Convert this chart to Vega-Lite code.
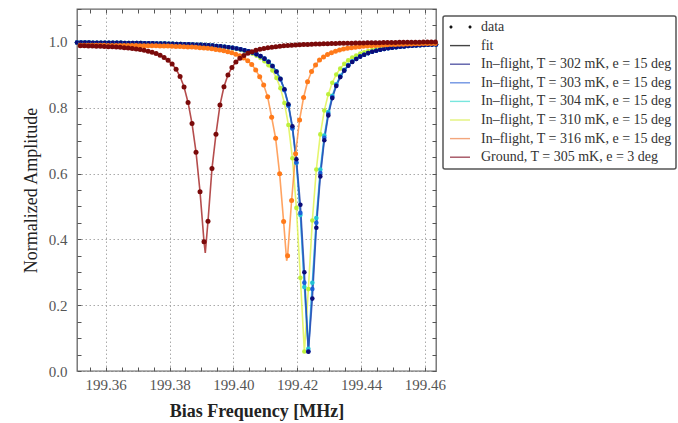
{
"$schema":"https://vega.github.io/schema/vega-lite/v6.json",
"width":359,"height":362,
"autosize":{"type":"none"},
"padding":{"left":77,"top":9,"right":242,"bottom":52},
"background":"white",
"config":{"font":"Liberation Serif","view":{"stroke":"#666","strokeWidth":1.3}},
"datasets":{
"inflight":[
{"freq":199.351,"302":0.998,"303":0.998,"304":0.998,"310":0.998},
{"freq":199.35225,"302":0.9979,"303":0.9979,"304":0.9979,"310":0.998},
{"freq":199.3535,"302":0.9979,"303":0.9979,"304":0.9979,"310":0.9979},
{"freq":199.35475,"302":0.9978,"303":0.9978,"304":0.9978,"310":0.9978},
{"freq":199.356,"302":0.9977,"303":0.9977,"304":0.9977,"310":0.9977},
{"freq":199.35725,"302":0.9976,"303":0.9976,"304":0.9976,"310":0.9976},
{"freq":199.3585,"302":0.9975,"303":0.9975,"304":0.9975,"310":0.9975},
{"freq":199.35975,"302":0.9974,"303":0.9974,"304":0.9974,"310":0.9974},
{"freq":199.361,"302":0.9973,"303":0.9973,"304":0.9973,"310":0.9973},
{"freq":199.36225,"302":0.9972,"303":0.9972,"304":0.9972,"310":0.9972},
{"freq":199.3635,"302":0.9971,"303":0.9971,"304":0.9971,"310":0.9971},
{"freq":199.36475,"302":0.997,"303":0.997,"304":0.997,"310":0.997},
{"freq":199.366,"302":0.9968,"303":0.9968,"304":0.9968,"310":0.9968},
{"freq":199.36725,"302":0.9967,"303":0.9967,"304":0.9967,"310":0.9967},
{"freq":199.3685,"302":0.9965,"303":0.9965,"304":0.9965,"310":0.9965},
{"freq":199.36975,"302":0.9964,"303":0.9964,"304":0.9964,"310":0.9964},
{"freq":199.371,"302":0.9962,"303":0.9962,"304":0.9962,"310":0.9962},
{"freq":199.37225,"302":0.996,"303":0.996,"304":0.996,"310":0.996},
{"freq":199.3735,"302":0.9958,"303":0.9958,"304":0.9958,"310":0.9958},
{"freq":199.37475,"302":0.9956,"303":0.9956,"304":0.9956,"310":0.9956},
{"freq":199.376,"302":0.9954,"303":0.9954,"304":0.9954,"310":0.9953},
{"freq":199.37725,"302":0.9951,"303":0.9951,"304":0.9951,"310":0.9951},
{"freq":199.3785,"302":0.9949,"303":0.9949,"304":0.9949,"310":0.9948},
{"freq":199.37975,"302":0.9946,"303":0.9946,"304":0.9946,"310":0.9945},
{"freq":199.381,"302":0.9942,"303":0.9942,"304":0.9942,"310":0.9941},
{"freq":199.38225,"302":0.9939,"303":0.9939,"304":0.9939,"310":0.9938},
{"freq":199.3835,"302":0.9935,"303":0.9935,"304":0.9935,"310":0.9934},
{"freq":199.38475,"302":0.9931,"303":0.9931,"304":0.9931,"310":0.9929},
{"freq":199.386,"302":0.9926,"303":0.9926,"304":0.9926,"310":0.9924},
{"freq":199.38725,"302":0.9921,"303":0.9921,"304":0.9921,"310":0.9919},
{"freq":199.3885,"302":0.9916,"303":0.9916,"304":0.9916,"310":0.9913},
{"freq":199.38975,"302":0.9909,"303":0.9909,"304":0.9909,"310":0.9906},
{"freq":199.391,"302":0.9902,"303":0.9902,"304":0.9902,"310":0.9899},
{"freq":199.39225,"302":0.9894,"303":0.9894,"304":0.9894,"310":0.989},
{"freq":199.3935,"302":0.9886,"303":0.9886,"304":0.9886,"310":0.9881},
{"freq":199.39475,"302":0.9876,"303":0.9876,"304":0.9876,"310":0.987},
{"freq":199.396,"302":0.9864,"303":0.9864,"304":0.9864,"310":0.9857},
{"freq":199.39725,"302":0.9851,"303":0.9851,"304":0.9851,"310":0.9843},
{"freq":199.3985,"302":0.9837,"303":0.9837,"304":0.9837,"310":0.9827},
{"freq":199.39975,"302":0.982,"303":0.982,"304":0.982,"310":0.9807},
{"freq":199.401,"302":0.98,"303":0.98,"304":0.98,"310":0.9785},
{"freq":199.40225,"302":0.9776,"303":0.9776,"304":0.9776,"310":0.9758},
{"freq":199.4035,"302":0.9749,"303":0.9749,"304":0.9749,"310":0.9726},
{"freq":199.40475,"302":0.9716,"303":0.9716,"304":0.9716,"310":0.9688},
{"freq":199.406,"302":0.9676,"303":0.9676,"304":0.9676,"310":0.9641},
{"freq":199.40725,"302":0.9627,"303":0.9627,"304":0.9627,"310":0.9582},
{"freq":199.4085,"302":0.9567,"303":0.9562,"304":0.9567,"310":0.9509},
{"freq":199.40975,"302":0.9492,"303":0.9485,"304":0.9492,"310":0.9415},
{"freq":199.411,"302":0.9395,"303":0.9387,"304":0.9403,"310":0.9293},
{"freq":199.41225,"302":0.927,"303":0.9259,"304":0.9276,"310":0.913},
{"freq":199.4135,"302":0.9103,"303":0.9088,"304":0.9108,"310":0.8907},
{"freq":199.41475,"302":0.8877,"303":0.8856,"304":0.8876,"310":0.8595},
{"freq":199.416,"302":0.856,"303":0.853,"304":0.8551,"310":0.8144},
{"freq":199.41725,"302":0.8105,"303":0.8062,"304":0.8079,"310":0.7476},
{"freq":199.4185,"302":0.7435,"303":0.7371,"304":0.7378,"310":0.6467},
{"freq":199.41975,"302":0.6432,"303":0.6336,"304":0.632,"310":0.4956},
{"freq":199.421,"302":0.505,"303":0.4804,"304":0.474,"310":0.2831},
{"freq":199.42225,"302":0.3,"303":0.2685,"304":0.2554,"310":0.059},
{"freq":199.4235,"302":0.0587,"303":0.06,"304":0.0678,"310":0.2489},
{"freq":199.42475,"302":0.22,"303":0.2494,"304":0.2681,"310":0.4575},
{"freq":199.426,"302":0.4355,"303":0.4504,"304":0.4649,"310":0.6122},
{"freq":199.42725,"302":0.5913,"303":0.6019,"304":0.6123,"310":0.719},
{"freq":199.4285,"302":0.701,"303":0.7084,"304":0.7155,"310":0.7915},
{"freq":199.42975,"302":0.7767,"303":0.7818,"304":0.7867,"310":0.8412},
{"freq":199.431,"302":0.8292,"303":0.8327,"304":0.8362,"310":0.876},
{"freq":199.43225,"302":0.8662,"303":0.8688,"304":0.8712,"310":0.901},
{"freq":199.4335,"302":0.893,"303":0.8948,"304":0.8967,"310":0.9194},
{"freq":199.43475,"302":0.9127,"303":0.9141,"304":0.9155,"310":0.9333},
{"freq":199.436,"302":0.9277,"303":0.9288,"304":0.9298,"310":0.9439},
{"freq":199.43725,"302":0.9392,"303":0.94,"304":0.9402,"310":0.9523},
{"freq":199.4385,"302":0.9482,"303":0.9482,"304":0.949,"310":0.9589},
{"freq":199.43975,"302":0.9554,"303":0.9554,"304":0.9561,"310":0.9643},
{"freq":199.441,"302":0.9612,"303":0.9612,"304":0.9612,"310":0.9687},
{"freq":199.44225,"302":0.966,"303":0.966,"304":0.966,"310":0.9724},
{"freq":199.4435,"302":0.9699,"303":0.9699,"304":0.9699,"310":0.9754},
{"freq":199.44475,"302":0.9733,"303":0.9733,"304":0.9733,"310":0.978},
{"freq":199.446,"302":0.9761,"303":0.9761,"304":0.9761,"310":0.9802},
{"freq":199.44725,"302":0.9784,"303":0.9784,"304":0.9784,"310":0.9821},
{"freq":199.4485,"302":0.9805,"303":0.9805,"304":0.9805,"310":0.9837},
{"freq":199.44975,"302":0.9823,"303":0.9823,"304":0.9823,"310":0.9851},
{"freq":199.451,"302":0.9838,"303":0.9838,"304":0.9838,"310":0.9864},
{"freq":199.45225,"302":0.9852,"303":0.9852,"304":0.9852,"310":0.9874},
{"freq":199.4535,"302":0.9864,"303":0.9864,"304":0.9864,"310":0.9884},
{"freq":199.45475,"302":0.9874,"303":0.9874,"304":0.9874,"310":0.9893},
{"freq":199.456,"302":0.9883,"303":0.9883,"304":0.9883,"310":0.99},
{"freq":199.45725,"302":0.9892,"303":0.9892,"304":0.9892,"310":0.9907},
{"freq":199.4585,"302":0.9899,"303":0.9899,"304":0.9899,"310":0.9914},
{"freq":199.45975,"302":0.9906,"303":0.9906,"304":0.9906,"310":0.9919},
{"freq":199.461,"302":0.9912,"303":0.9912,"304":0.9912,"310":0.9924},
{"freq":199.46225,"302":0.9918,"303":0.9918,"304":0.9918,"310":0.9929},
{"freq":199.4635,"302":0.9923,"303":0.9923,"304":0.9923,"310":0.9933}
],
"others":[
{"series":"316","freq":199.352,"amp":0.9896},
{"series":"316","freq":199.35325,"amp":0.9896},
{"series":"316","freq":199.3545,"amp":0.9896},
{"series":"316","freq":199.35575,"amp":0.9896},
{"series":"316","freq":199.357,"amp":0.9895},
{"series":"316","freq":199.35825,"amp":0.9895},
{"series":"316","freq":199.3595,"amp":0.9895},
{"series":"316","freq":199.36075,"amp":0.9894},
{"series":"316","freq":199.362,"amp":0.9894},
{"series":"316","freq":199.36325,"amp":0.9893},
{"series":"316","freq":199.3645,"amp":0.9893},
{"series":"316","freq":199.36575,"amp":0.9892},
{"series":"316","freq":199.367,"amp":0.9891},
{"series":"316","freq":199.36825,"amp":0.989},
{"series":"316","freq":199.3695,"amp":0.9889},
{"series":"316","freq":199.37075,"amp":0.9887},
{"series":"316","freq":199.372,"amp":0.9886},
{"series":"316","freq":199.37325,"amp":0.9884},
{"series":"316","freq":199.3745,"amp":0.9882},
{"series":"316","freq":199.37575,"amp":0.988},
{"series":"316","freq":199.377,"amp":0.9878},
{"series":"316","freq":199.37825,"amp":0.9875},
{"series":"316","freq":199.3795,"amp":0.9872},
{"series":"316","freq":199.38075,"amp":0.9868},
{"series":"316","freq":199.382,"amp":0.9864},
{"series":"316","freq":199.38325,"amp":0.986},
{"series":"316","freq":199.3845,"amp":0.9855},
{"series":"316","freq":199.38575,"amp":0.9849},
{"series":"316","freq":199.387,"amp":0.9842},
{"series":"316","freq":199.38825,"amp":0.9834},
{"series":"316","freq":199.3895,"amp":0.9826},
{"series":"316","freq":199.39075,"amp":0.9815},
{"series":"316","freq":199.392,"amp":0.9804},
{"series":"316","freq":199.39325,"amp":0.979},
{"series":"316","freq":199.3945,"amp":0.9773},
{"series":"316","freq":199.39575,"amp":0.9754},
{"series":"316","freq":199.397,"amp":0.9731},
{"series":"316","freq":199.39825,"amp":0.9704},
{"series":"316","freq":199.3995,"amp":0.967},
{"series":"316","freq":199.40075,"amp":0.9628},
{"series":"316","freq":199.402,"amp":0.9576},
{"series":"316","freq":199.40325,"amp":0.951},
{"series":"316","freq":199.4045,"amp":0.9426},
{"series":"316","freq":199.40575,"amp":0.9314},
{"series":"316","freq":199.407,"amp":0.915},
{"series":"316","freq":199.40825,"amp":0.894},
{"series":"316","freq":199.4095,"amp":0.869},
{"series":"316","freq":199.41075,"amp":0.833},
{"series":"316","freq":199.412,"amp":0.771},
{"series":"316","freq":199.41325,"amp":0.707},
{"series":"316","freq":199.4145,"amp":0.599},
{"series":"316","freq":199.41575,"amp":0.454},
{"series":"316","freq":199.4167,"amp":0.335,"kind":"fit"},
{"series":"316","freq":199.417,"amp":0.35},
{"series":"316","freq":199.41825,"amp":0.518},
{"series":"316","freq":199.4195,"amp":0.66},
{"series":"316","freq":199.42075,"amp":0.763},
{"series":"316","freq":199.422,"amp":0.831},
{"series":"316","freq":199.42325,"amp":0.879},
{"series":"316","freq":199.4245,"amp":0.91},
{"series":"316","freq":199.42575,"amp":0.93},
{"series":"316","freq":199.427,"amp":0.945},
{"series":"316","freq":199.42825,"amp":0.9541},
{"series":"316","freq":199.4295,"amp":0.9616},
{"series":"316","freq":199.43075,"amp":0.9672},
{"series":"316","freq":199.432,"amp":0.9717},
{"series":"316","freq":199.43325,"amp":0.9752},
{"series":"316","freq":199.4345,"amp":0.9781},
{"series":"316","freq":199.43575,"amp":0.9804},
{"series":"316","freq":199.437,"amp":0.9824},
{"series":"316","freq":199.43825,"amp":0.984},
{"series":"316","freq":199.4395,"amp":0.9854},
{"series":"316","freq":199.44075,"amp":0.9867},
{"series":"316","freq":199.442,"amp":0.9877},
{"series":"316","freq":199.44325,"amp":0.9886},
{"series":"316","freq":199.4445,"amp":0.9894},
{"series":"316","freq":199.44575,"amp":0.9902},
{"series":"316","freq":199.447,"amp":0.9908},
{"series":"316","freq":199.44825,"amp":0.9914},
{"series":"316","freq":199.4495,"amp":0.9919},
{"series":"316","freq":199.45075,"amp":0.9924},
{"series":"316","freq":199.452,"amp":0.9928},
{"series":"316","freq":199.45325,"amp":0.9932},
{"series":"316","freq":199.4545,"amp":0.9936},
{"series":"316","freq":199.45575,"amp":0.9939},
{"series":"316","freq":199.457,"amp":0.9942},
{"series":"316","freq":199.45825,"amp":0.9945},
{"series":"316","freq":199.4595,"amp":0.9948},
{"series":"316","freq":199.46075,"amp":0.995},
{"series":"316","freq":199.462,"amp":0.9953},
{"series":"316","freq":199.46325,"amp":0.9955},
{"series":"ground","freq":199.35205,"amp":0.9882},
{"series":"ground","freq":199.3533,"amp":0.988},
{"series":"ground","freq":199.35455,"amp":0.9877},
{"series":"ground","freq":199.3558,"amp":0.9874},
{"series":"ground","freq":199.35705,"amp":0.987},
{"series":"ground","freq":199.3583,"amp":0.9866},
{"series":"ground","freq":199.35955,"amp":0.9861},
{"series":"ground","freq":199.3608,"amp":0.9856},
{"series":"ground","freq":199.36205,"amp":0.985},
{"series":"ground","freq":199.3633,"amp":0.9843},
{"series":"ground","freq":199.36455,"amp":0.9835},
{"series":"ground","freq":199.3658,"amp":0.9825},
{"series":"ground","freq":199.36705,"amp":0.9814},
{"series":"ground","freq":199.3683,"amp":0.9801},
{"series":"ground","freq":199.36955,"amp":0.9786},
{"series":"ground","freq":199.3708,"amp":0.9767},
{"series":"ground","freq":199.37205,"amp":0.9745},
{"series":"ground","freq":199.3733,"amp":0.9718},
{"series":"ground","freq":199.37455,"amp":0.9685},
{"series":"ground","freq":199.3758,"amp":0.9644},
{"series":"ground","freq":199.37705,"amp":0.9592},
{"series":"ground","freq":199.3783,"amp":0.9526},
{"series":"ground","freq":199.37955,"amp":0.944},
{"series":"ground","freq":199.3808,"amp":0.9325},
{"series":"ground","freq":199.38205,"amp":0.9168},
{"series":"ground","freq":199.3833,"amp":0.8948},
{"series":"ground","freq":199.38455,"amp":0.8631},
{"series":"ground","freq":199.3858,"amp":0.8161},
{"series":"ground","freq":199.38705,"amp":0.752},
{"series":"ground","freq":199.3883,"amp":0.665},
{"series":"ground","freq":199.38955,"amp":0.545},
{"series":"ground","freq":199.3908,"amp":0.393},
{"series":"ground","freq":199.3912,"amp":0.359,"kind":"fit"},
{"series":"ground","freq":199.39205,"amp":0.455},
{"series":"ground","freq":199.3933,"amp":0.615},
{"series":"ground","freq":199.39455,"amp":0.7196},
{"series":"ground","freq":199.3958,"amp":0.8082},
{"series":"ground","freq":199.39705,"amp":0.8636},
{"series":"ground","freq":199.3983,"amp":0.8991},
{"series":"ground","freq":199.39955,"amp":0.9226},
{"series":"ground","freq":199.4008,"amp":0.9388},
{"series":"ground","freq":199.40205,"amp":0.9504},
{"series":"ground","freq":199.4033,"amp":0.959},
{"series":"ground","freq":199.40455,"amp":0.9654},
{"series":"ground","freq":199.4058,"amp":0.9704},
{"series":"ground","freq":199.40705,"amp":0.9744},
{"series":"ground","freq":199.4083,"amp":0.9775},
{"series":"ground","freq":199.40955,"amp":0.9801},
{"series":"ground","freq":199.4108,"amp":0.9823},
{"series":"ground","freq":199.41205,"amp":0.984},
{"series":"ground","freq":199.4133,"amp":0.9856},
{"series":"ground","freq":199.41455,"amp":0.9869},
{"series":"ground","freq":199.4158,"amp":0.988},
{"series":"ground","freq":199.41705,"amp":0.989},
{"series":"ground","freq":199.4183,"amp":0.9898},
{"series":"ground","freq":199.41955,"amp":0.9906},
{"series":"ground","freq":199.4208,"amp":0.9913},
{"series":"ground","freq":199.42205,"amp":0.9919},
{"series":"ground","freq":199.4233,"amp":0.9925},
{"series":"ground","freq":199.42455,"amp":0.993},
{"series":"ground","freq":199.4258,"amp":0.9934},
{"series":"ground","freq":199.42705,"amp":0.9939},
{"series":"ground","freq":199.4283,"amp":0.9942},
{"series":"ground","freq":199.42955,"amp":0.9946},
{"series":"ground","freq":199.4308,"amp":0.9949},
{"series":"ground","freq":199.43205,"amp":0.9953},
{"series":"ground","freq":199.4333,"amp":0.9956},
{"series":"ground","freq":199.43455,"amp":0.9958},
{"series":"ground","freq":199.4358,"amp":0.9961},
{"series":"ground","freq":199.43705,"amp":0.9963},
{"series":"ground","freq":199.4383,"amp":0.9966},
{"series":"ground","freq":199.43955,"amp":0.9968},
{"series":"ground","freq":199.4408,"amp":0.997},
{"series":"ground","freq":199.44205,"amp":0.9972},
{"series":"ground","freq":199.4433,"amp":0.9974},
{"series":"ground","freq":199.44455,"amp":0.9976},
{"series":"ground","freq":199.4458,"amp":0.9978},
{"series":"ground","freq":199.44705,"amp":0.998},
{"series":"ground","freq":199.4483,"amp":0.9981},
{"series":"ground","freq":199.44955,"amp":0.9983},
{"series":"ground","freq":199.4508,"amp":0.9985},
{"series":"ground","freq":199.45205,"amp":0.9986},
{"series":"ground","freq":199.4533,"amp":0.9988},
{"series":"ground","freq":199.45455,"amp":0.9989},
{"series":"ground","freq":199.4558,"amp":0.9991},
{"series":"ground","freq":199.45705,"amp":0.9992},
{"series":"ground","freq":199.4583,"amp":0.9993},
{"series":"ground","freq":199.45955,"amp":0.9995},
{"series":"ground","freq":199.4608,"amp":0.9996},
{"series":"ground","freq":199.46205,"amp":0.9997},
{"series":"ground","freq":199.4633,"amp":0.9999}
],
"legend":[
{"entry":"data"},{"entry":"fit"},
{"entry":"In–flight, T = 302 mK, e = 15 deg"},
{"entry":"In–flight, T = 303 mK, e = 15 deg"},
{"entry":"In–flight, T = 304 mK, e = 15 deg"},
{"entry":"In–flight, T = 310 mK, e = 15 deg"},
{"entry":"In–flight, T = 316 mK, e = 15 deg"},
{"entry":"Ground, T = 305 mK, e = 3 deg"}
]
},
"layer":[
{
"data":{"name":"inflight"},
"transform":[{"fold":["310","304","303","302"],"as":["series","amp"]}],
"mark":{"type":"line","strokeWidth":1.6,"opacity":0.8},
"encoding":{
"x":{"field":"freq","type":"quantitative","scale":{"domain":[199.351,199.4635],"nice":false,"zero":false},
"axis":{"orient":"bottom","values":[199.355,199.36,199.365,199.37,199.375,199.38,199.385,199.39,199.395,199.4,199.405,199.41,199.415,199.42,199.425,199.43,199.435,199.44,199.445,199.45,199.455,199.46],
"labelExpr":"abs(datum.value*50 - round(datum.value*50)) < 0.001 ? format(datum.value, '.2f') : ''",
"labelFont":"Liberation Serif","labelFontSize":15,"labelColor":"#555","labelPadding":10,"labelOverlap":false,"labelFlush":false,"labelBound":false,
"tickSize":-4,"tickColor":"#555","tickWidth":1,"domain":false,
"grid":true,"gridColor":"#aaa","gridDash":[1.5,2.5],"gridWidth":1,
"gridOpacity":{"condition":{"test":"abs(datum.value*50 - round(datum.value*50)) < 0.001","value":1},"value":0},
"title":"Bias Frequency [MHz]","titleFont":"Liberation Serif","titleFontSize":18,"titleFontWeight":"bold","titleColor":"#222","titlePadding":10}},
"y":{"field":"amp","type":"quantitative","scale":{"domain":[0,1.1],"nice":false},
"axis":{"orient":"left","values":[0,0.05,0.1,0.15,0.2,0.25,0.3,0.35,0.4,0.45,0.5,0.55,0.6,0.65,0.7,0.75,0.8,0.85,0.9,0.95,1,1.05,1.1],
"labelExpr":"abs(datum.value*5 - round(datum.value*5)) < 0.001 ? format(datum.value, '.1f') : ''",
"labelFont":"Liberation Serif","labelFontSize":15,"labelColor":"#555","labelPadding":14,"labelOverlap":false,"labelFlush":false,"labelBound":false,
"tickSize":-4,"tickColor":"#555","tickWidth":1,"domain":false,
"grid":true,"gridColor":"#aaa","gridDash":[1.5,2.5],"gridWidth":1,
"gridOpacity":{"condition":{"test":"abs(datum.value*5 - round(datum.value*5)) < 0.001","value":1},"value":0},
"title":"Normalized Amplitude","titleFont":"Liberation Serif","titleFontSize":18,"titleFontWeight":"normal","titleColor":"#222","titlePadding":8}},
"color":{"field":"series","type":"nominal","scale":{"domain":["302","303","304","310"],"range":["#2447b0","#2f7fe0","#2fd3d8","#dff24a"]},"legend":null}
}
},
{
"data":{"name":"others"},
"mark":{"type":"line","strokeWidth":1.6,"opacity":0.8},
"encoding":{
"x":{"field":"freq","type":"quantitative","scale":{"domain":[199.351,199.4635],"nice":false,"zero":false},"axis":null},
"y":{"field":"amp","type":"quantitative","scale":{"domain":[0,1.1],"nice":false},"axis":null},
"color":{"field":"series","type":"nominal","scale":{"domain":["316","ground"],"range":["#ff8c3a","#a32020"]},"legend":null}
}
},
{
"data":{"name":"inflight"},
"transform":[{"fold":["310","304","303","302"],"as":["series","amp"]}],
"mark":{"type":"point","filled":true,"size":21,"opacity":1},
"encoding":{
"x":{"field":"freq","type":"quantitative","scale":{"domain":[199.351,199.4635],"nice":false,"zero":false},
"axis":{"orient":"top","values":[199.355,199.36,199.365,199.37,199.375,199.38,199.385,199.39,199.395,199.4,199.405,199.41,199.415,199.42,199.425,199.43,199.435,199.44,199.445,199.45,199.455,199.46],"labels":false,"tickSize":-4,"tickColor":"#555","domain":false,"grid":false,"title":null}},
"y":{"field":"amp","type":"quantitative","scale":{"domain":[0,1.1],"nice":false},
"axis":{"orient":"right","values":[0,0.05,0.1,0.15,0.2,0.25,0.3,0.35,0.4,0.45,0.5,0.55,0.6,0.65,0.7,0.75,0.8,0.85,0.9,0.95,1,1.05,1.1],"labels":false,"tickSize":-4,"tickColor":"#555","domain":false,"grid":false,"title":null}},
"color":{"field":"series","type":"nominal","scale":{"domain":["302","303","304","310"],"range":["#0c0c78","#1b5fd8","#22c4d4","#bdf03a"]},"legend":null}
}
},
{
"data":{"name":"others"},
"transform":[{"filter":"datum.kind !== 'fit'"}],
"mark":{"type":"point","filled":true,"size":25,"opacity":1},
"encoding":{
"x":{"field":"freq","type":"quantitative","scale":{"domain":[199.351,199.4635],"nice":false,"zero":false},"axis":null},
"y":{"field":"amp","type":"quantitative","scale":{"domain":[0,1.1],"nice":false},"axis":null},
"color":{"field":"series","type":"nominal","scale":{"domain":["316","ground"],"range":["#ff7a1a","#7a0a0a"]},"legend":null}
}
},
{
"data":{"name":"legend"},
"transform":[{"filter":"false"}],
"mark":{"type":"point","filled":true},
"encoding":{
"color":{"field":"entry","type":"nominal",
"scale":{"domain":["data","fit","In–flight, T = 302 mK, e = 15 deg","In–flight, T = 303 mK, e = 15 deg","In–flight, T = 304 mK, e = 15 deg","In–flight, T = 310 mK, e = 15 deg","In–flight, T = 316 mK, e = 15 deg","Ground, T = 305 mK, e = 3 deg"],
"range":["#111111","#444444","#5a5ca8","#6f93e3","#78e6de","#e3f27a","#f3a67c","#a3505f"]},
"legend":{"title":null,"orient":"none","legendX":366,"legendY":7,"padding":4,"strokeColor":"#555","fillColor":"white","cornerRadius":2,
"symbolSize":196,"symbolStrokeWidth":0,"symbolOpacity":1,"labelFont":"Liberation Serif","labelFontSize":14,"labelColor":"#333","labelOffset":20,"rowPadding":4.6,"labelLimit":400,
"encode":{"legend":{"update":{"strokeWidth":{"value":1.5}}},
"symbols":{"update":{"shape":{"signal":"datum.value === 'data' ? 'M-0.65,0a0.22,0.22 0 1,0 0.44,0a0.22,0.22 0 1,0 -0.44,0ZM2.07,0a0.22,0.22 0 1,0 0.44,0a0.22,0.22 0 1,0 -0.44,0Z' : 'M-0.57,-0.1L2.29,-0.1L2.29,0.1L-0.57,0.1Z'"}}}}}}
}
}
],
"resolve":{"scale":{"color":"independent"},"axis":{"x":"independent","y":"independent"}}
}
